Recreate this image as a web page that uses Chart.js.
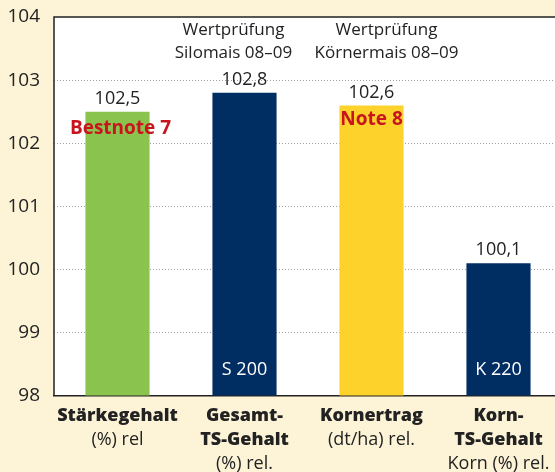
<!DOCTYPE html>
<html>
<head>
<meta charset="utf-8">
<script src="https://cdn.jsdelivr.net/npm/chart.js@4/dist/chart.umd.min.js"></script>
<style>
  html, body { margin: 0; padding: 0; background: #fdf3d7; overflow: hidden; }
  #wrap { width: 562px; height: 472px; }
</style>
</head>
<body>
<div id="wrap"><canvas id="grafico"></canvas></div>
<script>
const kategorien = ["Stärkegehalt", "Gesamt-TS-Gehalt", "Kornertrag", "Korn-TS-Gehalt"];
const werte = [102.5, 102.8, 102.6, 100.1];
const farben = ["#8bc34f", "#002d62", "#fdd22b", "#002d62"];
const wertTexte = ["102,5", "102,8", "102,6", "100,1"];
// x-Beschriftung: [Text, fett?]
const achsenZeilen = [
    [["Stärkegehalt", true], ["(%) rel", false]],
    [["Gesamt-", true], ["TS-Gehalt", true], ["(%) rel.", false]],
    [["Kornertrag", true], ["(dt/ha) rel.", false]],
    [["Korn-", true], ["TS-Gehalt", true], ["Korn (%) rel.", false]]
];
const kopfNotizen = [null, ["Wertprüfung", "Silomais 08–09"], ["Wertprüfung", "Körnermais 08–09"], null];
const noten = ["Bestnote 7", null, "Note 8", null];
const sorten = [null, "S 200", null, "K 220"];
const yTicks = [98, 99, 100, 101, 102, 103, 104];

const schrift = "'Open Sans', sans-serif";

const texte = {
    id: "texte",
    beforeDraw(chart) {
        const { ctx, chartArea: a } = chart;
        ctx.save();
        ctx.fillStyle = "#ffffff";
        ctx.fillRect(a.left, a.top, a.right - a.left, a.bottom - a.top);
        ctx.restore();
    },
    afterDraw(chart) {
        const { ctx, chartArea: a, scales } = chart;
        const x = scales.x, y = scales.y;
        const meta = chart.getDatasetMeta(0);
        // Kopfzeilen stehen nicht genau mittig über den Balken
        const kopfVersatz = [0, -11, 15, 0];
        ctx.save();
        // Rahmen oben und links
        ctx.strokeStyle = "#222";
        ctx.lineWidth = 1.5;
        ctx.beginPath();
        ctx.moveTo(a.left, a.bottom);
        ctx.lineTo(a.left, a.top);
        ctx.lineTo(chart.width, a.top);
        ctx.stroke();

        ctx.textAlign = "center";
        ctx.textBaseline = "middle";
        kategorien.forEach((k, i) => {
            const cx = x.getPixelForValue(i);
            const top = meta.data[i].y;
            ctx.fillStyle = "#222";
            ctx.font = "18px " + schrift;
            ctx.fillText(wertTexte[i], cx, top - 13);
            if (kopfNotizen[i]) {
                ctx.font = "17px " + schrift;
                ctx.fillText(kopfNotizen[i][0], cx + kopfVersatz[i], 30);
                ctx.fillText(kopfNotizen[i][1], cx + kopfVersatz[i], 53);
            }
            if (noten[i]) {
                ctx.fillStyle = "#c8141e";
                ctx.font = "bold 19px " + schrift;
                ctx.fillText(noten[i], cx + (i === 0 ? 3 : 0), top + (i === 0 ? 17 : 14));
            }
            if (sorten[i]) {
                ctx.fillStyle = "#ffffff";
                ctx.font = "18px " + schrift;
                ctx.fillText(sorten[i], cx, y.bottom - 26);
            }
            achsenZeilen[i].forEach((z, j) => {
                ctx.fillStyle = "#222";
                ctx.font = (z[1] ? "800 18px " : "18px ") + schrift;
                ctx.fillText(z[0], cx, a.bottom + 20 + j * 24);
            });
        });
        ctx.restore();
    }
};

new Chart(document.getElementById("grafico"), {
    type: "bar",
    data: {
        labels: kategorien,
        datasets: [{
            data: werte,
            backgroundColor: farben,
            barPercentage: 0.505,
            categoryPercentage: 1,
            base: 98
        }]
    },
    options: {
        responsive: true,
        maintainAspectRatio: false,
        animation: false,
        layout: { padding: { top: 17, right: 0, left: 0, bottom: 0 } },
        plugins: { legend: { display: false }, tooltip: { enabled: false } },
        scales: {
            x: {
                grid: { display: false },
                border: { color: "#222", width: 1.5 },
                ticks: { display: false },
                afterFit(s) { s.height = 76; }
            },
            y: {
                min: 98,
                max: 104,
                afterBuildTicks(s) { s.ticks = yTicks.map(v => ({ value: v })); },
                afterFit(s) { s.width = 54; s.paddingTop = 0; s.paddingBottom = 0; },
                border: { display: false, dash: [1, 2] },
                grid: {
                    color: c => (c.tick && (c.tick.value === 98 || c.tick.value === 104)) ? "rgba(0,0,0,0)" : "#a0a0a0",
                    lineWidth: 1,
                    drawTicks: false
                },
                ticks: {
                    color: "#222",
                    font: { family: schrift, size: 19 },
                    padding: 14
                }
            }
        }
    },
    plugins: [texte]
});
</script>
</body>
</html>
